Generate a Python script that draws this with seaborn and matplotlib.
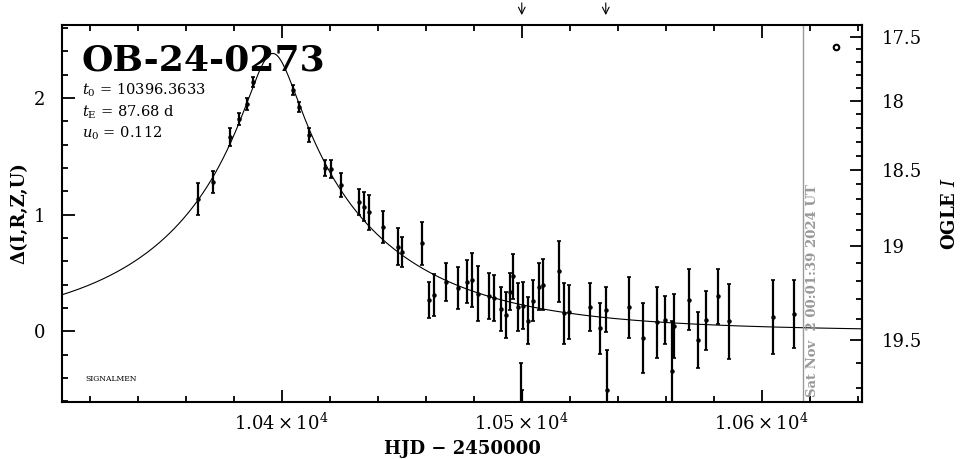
import numpy as np
import pandas as pd
import seaborn as sns
import matplotlib.pyplot as plt
from matplotlib.ticker import MultipleLocator, FuncFormatter, FixedLocator

# event parameters (from the panel text)
event = 'OB-24-0273'
t0 = 10396.3633
tE = 87.68
u0 = 0.112
now_hjd = 10617.4
now_label = 'Sat Nov  2 00:01:39 2024 UT'
arrow_hjd = [10500.1, 10535.1]
mag_ticks = [17.5, 18.0, 18.5, 19.0, 19.5]

# OGLE I photometry, in magnification units
hjd = [10365.2, 10371.4, 10378.5, 10382.3, 10385.4, 10388.2, 10404.6, 10407.3,
       10411.5, 10418.0, 10420.4, 10424.6, 10432.3, 10434.4, 10436.5, 10442.3,
       10448.6, 10450.3, 10458.7, 10461.5, 10463.5, 10468.5, 10473.6, 10477.3,
       10479.4, 10481.7, 10486.5, 10488.5, 10491.4, 10493.5, 10495.4, 10496.5,
       10498.6, 10499.8, 10500.2, 10500.7, 10502.5, 10504.8, 10507.3, 10508.8,
       10515.7, 10517.8, 10519.7, 10528.5, 10532.6, 10535.4, 10535.7, 10544.7,
       10550.7, 10556.5, 10559.9, 10562.5, 10563.5, 10569.7, 10573.6, 10576.7,
       10581.7, 10586.5, 10604.6, 10613.6]
delta = [1.134, 1.279, 1.664, 1.818, 1.950, 2.140, 2.069, 1.926,
         1.684, 1.399, 1.390, 1.256, 1.108, 1.070, 1.022, 0.894,
         0.728, 0.682, 0.757, 0.271, 0.314, 0.423, 0.372, 0.428,
         0.443, 0.323, 0.306, 0.286, 0.192, 0.140, 0.342, 0.471,
         0.207, -0.95, -1.05, 0.220, 0.092, 0.265, 0.385, 0.400,
         0.514, 0.157, 0.169, 0.207, 0.026, 0.186, -0.500, 0.209,
         -0.057, 0.080, 0.100, -0.342, 0.049, 0.271, -0.071, 0.094,
         0.300, 0.086, 0.123, 0.149]
err = [0.140, 0.093, 0.079, 0.050, 0.050, 0.043, 0.043, 0.043,
       0.057, 0.071, 0.078, 0.100, 0.110, 0.124, 0.150, 0.135,
       0.157, 0.126, 0.185, 0.157, 0.178, 0.164, 0.180, 0.185,
       0.230, 0.235, 0.197, 0.200, 0.186, 0.200, 0.157, 0.193,
       0.207, 0.680, 0.550, 0.200, 0.200, 0.178, 0.200, 0.220,
       0.264, 0.262, 0.233, 0.207, 0.218, 0.194, 0.343, 0.261,
       0.300, 0.304, 0.205, 0.430, 0.274, 0.260, 0.240, 0.250,
       0.234, 0.323, 0.318, 0.290]

# blending used for the OGLE I scale on the right
fs = 0.55
I_base = 19.46

df = pd.DataFrame({'hjd': hjd, 'delta': delta, 'err': err})


def paczynski(t):
    u = np.sqrt(u0**2 + ((t - t0) / tE)**2)
    A = (u**2 + 2) / (u * np.sqrt(u**2 + 4))
    return 2.5 * np.log10(A)


def delta_to_mag(d):
    d = np.asarray(d, dtype=float)
    return I_base - 2.5 * np.log10(fs * (10**(0.4 * d) - 1) + 1)


def mag_to_delta(m):
    m = np.asarray(m, dtype=float)
    flux = 10**(-0.4 * (m - I_base))
    return 2.5 * np.log10(np.clip((flux - 1) / fs + 1, 1e-6, None))


sns.set_theme(style='ticks')
plt.rcParams['font.family'] = ['DejaVu Serif']
plt.rcParams['mathtext.fontset'] = 'dejavuserif'
plt.rcParams['text.color'] = 'black'
plt.rcParams['axes.labelcolor'] = 'black'

fig = plt.figure(figsize=(9.65, 4.59), dpi=100)
ax = fig.add_axes([0.0642, 0.1248, 0.8294, 0.8207])

xlo, xhi = 10308.5, 10642.0
tt = np.linspace(xlo, xhi, 800)
sns.lineplot(x=tt, y=paczynski(tt), ax=ax, color='black', lw=0.8)
ax.errorbar(df['hjd'], df['delta'], yerr=df['err'], fmt='o', ms=2.2,
            color='black', ecolor='black', elinewidth=1.6, capsize=1.5,
            capthick=1.2)

ax.set_xlim(xlo, xhi)
ax.set_ylim(-0.602, 2.626)
ax.xaxis.set_major_locator(MultipleLocator(100))
ax.xaxis.set_minor_locator(MultipleLocator(20))
ax.yaxis.set_major_locator(MultipleLocator(1))
ax.yaxis.set_minor_locator(MultipleLocator(0.2))
ax.xaxis.set_major_formatter(FuncFormatter(lambda v, p: r'$%.2f\times10^{4}$' % (v / 1e4)))
ax.tick_params(which='both', direction='in', top=True, right=False, width=1.3,
               labelsize=13, colors='black')
ax.tick_params(which='major', length=9)
ax.tick_params(which='minor', length=4.5)
ax.tick_params(axis='x', pad=8)
ax.tick_params(axis='y', pad=12)
for s in ax.spines.values():
    s.set_linewidth(1.5)
    s.set_color('black')

sec = ax.secondary_yaxis('right', functions=(delta_to_mag, mag_to_delta))
sec.yaxis.set_major_locator(FixedLocator(mag_ticks))
sec.yaxis.set_minor_locator(MultipleLocator(0.1))
sec.yaxis.set_major_formatter(FuncFormatter(lambda v, p: f'{v:g}'))
sec.tick_params(which='both', direction='in', width=1.3, labelsize=13, pad=14,
                colors='black')
sec.tick_params(which='major', length=9)
sec.tick_params(which='minor', length=4.5)
sec.spines['right'].set_linewidth(1.5)
sec.spines['right'].set_color('black')
sec.set_ylabel(r'OGLE $I$', fontsize=13, fontweight='bold', labelpad=14)

ax.set_xlabel('HJD \u2212 2450000', fontsize=13, fontweight='bold', labelpad=4)
ax.set_ylabel('\u0394(I,R,Z,U)', fontsize=13, fontweight='bold', labelpad=4)

# current time marker
ax.axvline(now_hjd, color='#999999', lw=1)
ax.text(now_hjd + 1.2, -0.56, now_label, rotation=90, ha='left', va='bottom',
        color='#999999', fontsize=9.5, fontweight='bold')

# event label and fit parameters
ax.text(0.025, 0.88, event, transform=ax.transAxes, fontsize=26,
        fontweight='bold', va='baseline')
ax.text(0.025, 0.815, r'$t_0$ = %.4f' % t0, transform=ax.transAxes,
        fontsize=10.5, va='baseline')
ax.text(0.025, 0.757, r'$t_{\rm E}$ = %.2f d' % tE, transform=ax.transAxes,
        fontsize=10.5, va='baseline')
ax.text(0.025, 0.70, r'$u_0$ = %.3f' % u0, transform=ax.transAxes,
        fontsize=10.5, va='baseline')
ax.text(0.029, 0.055, 'SIGNALMEN', transform=ax.transAxes, fontsize=5.5)
ax.plot([0.967], [0.942], 'o', ms=4, mfc='none', mec='black', mew=1.5,
        transform=ax.transAxes)

for t in arrow_hjd:
    ax.annotate('', xy=(t, 1.019), xytext=(t, 1.066),
                xycoords=('data', 'axes fraction'),
                arrowprops=dict(arrowstyle='->', lw=0.8, color='black'),
                annotation_clip=False)

plt.savefig('out.png', dpi=100)
